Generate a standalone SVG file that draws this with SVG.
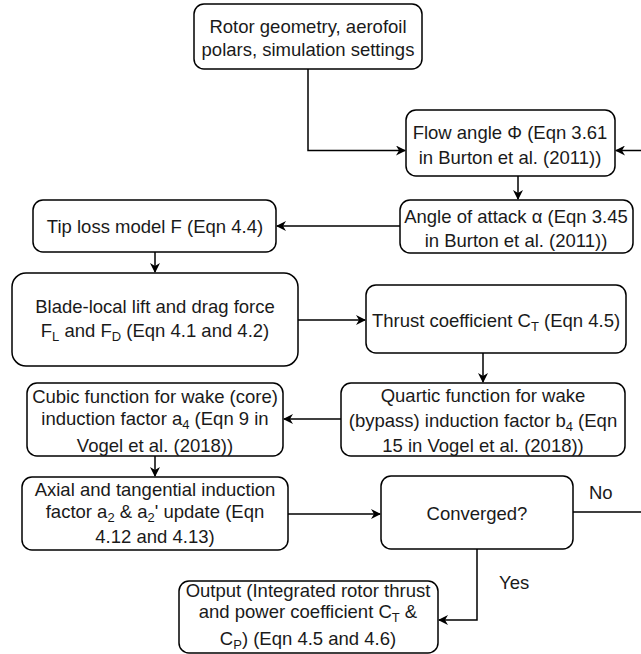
<svg xmlns="http://www.w3.org/2000/svg" width="641" height="654" viewBox="0 0 641 654">
<style>
.box{fill:#fff;stroke:#000;stroke-width:1.5}
.t{font-family:"Liberation Sans",Arial,sans-serif;font-size:18.5px;fill:#1a1a1a;text-anchor:middle}
.l{font-family:"Liberation Sans",Arial,sans-serif;font-size:18.5px;fill:#1a1a1a}
.c{fill:none;stroke:#000;stroke-width:1.5}
.s{font-size:13px}
</style>
<defs>
<marker id="ar" viewBox="0 0 10 10" refX="9" refY="5" markerWidth="10" markerHeight="10" markerUnits="userSpaceOnUse" orient="auto">
<path d="M0,0 L10,5 L0,10 L3,5 z" fill="#000"/>
</marker>
</defs>
<rect width="641" height="654" fill="#fff"/>
<g id="connectors">
<path class="c" d="M308,69 V150.5 H405" marker-end="url(#ar)"/>
<path class="c" d="M573,512 H660 V150.5 H616" marker-end="url(#ar)"/>
<path class="c" d="M518,176 V199" marker-end="url(#ar)"/>
<path class="c" d="M400,226 H277" marker-end="url(#ar)"/>
<path class="c" d="M155,252 V272" marker-end="url(#ar)"/>
<path class="c" d="M298,320 H365" marker-end="url(#ar)"/>
<path class="c" d="M483,353 V382" marker-end="url(#ar)"/>
<path class="c" d="M341,419 H284" marker-end="url(#ar)"/>
<path class="c" d="M155,456 V476" marker-end="url(#ar)"/>
<path class="c" d="M288,514 H380" marker-end="url(#ar)"/>
<path class="c" d="M477,549 V620 H439" marker-end="url(#ar)"/>
<text class="l" x="589" y="499">No</text>
<text class="l" x="499" y="589">Yes</text>
</g>
<g id="n1"><rect class="box" x="194" y="4" width="228" height="65" rx="10"/>
<text class="t" x="308" y="33">Rotor geometry, aerofoil</text>
<text class="t" x="308" y="56">polars, simulation settings</text></g>
<g id="n2"><rect class="box" x="406" y="110" width="209" height="66" rx="10"/>
<text class="t" x="510" y="139">Flow angle Φ (Eqn 3.61</text>
<text class="t" x="510" y="164">in Burton et al. (2011))</text></g>
<g id="n3"><rect class="box" x="400" y="200" width="233" height="53" rx="10"/>
<text class="t" x="516" y="223">Angle of attack α (Eqn 3.45</text>
<text class="t" x="516" y="247">in Burton et al. (2011))</text></g>
<g id="n4"><rect class="box" x="33" y="200" width="243" height="52" rx="10"/>
<text class="t" x="155" y="233">Tip loss model F (Eqn 4.4)</text></g>
<g id="n5"><rect class="box" x="12" y="273" width="286" height="93" rx="14"/>
<text class="t" x="155" y="313">Blade-local lift and drag force</text>
<text class="t" x="155" y="337">F<tspan class="s" dy="4">L</tspan><tspan dy="-4"> and F</tspan><tspan class="s" dy="4">D</tspan><tspan dy="-4"> (Eqn 4.1 and 4.2)</tspan></text></g>
<g id="n6"><rect class="box" x="366" y="285" width="260" height="68" rx="10"/>
<text class="t" x="496" y="327">Thrust coefficient C<tspan class="s" dy="4">T</tspan><tspan dy="-4"> (Eqn 4.5)</tspan></text></g>
<g id="n7"><rect class="box" x="341" y="383" width="284" height="73" rx="10"/>
<text class="t" x="483" y="402">Quartic function for wake</text>
<text class="t" x="483" y="427">(bypass) induction factor b<tspan class="s" dy="4">4</tspan><tspan dy="-4"> (Eqn</tspan></text>
<text class="t" x="483" y="452">15 in Vogel et al. (2018))</text></g>
<g id="n8"><rect class="box" x="27" y="383" width="256" height="73" rx="10"/>
<text class="t" x="155" y="403">Cubic function for wake (core)</text>
<text class="t" x="155" y="425">induction factor a<tspan class="s" dy="4">4</tspan><tspan dy="-4"> (Eqn 9 in</tspan></text>
<text class="t" x="155" y="452">Vogel et al. (2018))</text></g>
<g id="n9"><rect class="box" x="22" y="477" width="266" height="73" rx="10"/>
<text class="t" x="155" y="496">Axial and tangential induction</text>
<text class="t" x="155" y="518">factor a<tspan class="s" dy="4">2</tspan><tspan dy="-4"> &amp; a</tspan><tspan class="s" dy="4">2</tspan><tspan dy="-4">' update (Eqn</tspan></text>
<text class="t" x="155" y="543">4.12 and 4.13)</text></g>
<g id="n10"><rect class="box" x="381" y="476" width="192" height="73" rx="10"/>
<text class="t" x="477" y="520">Converged?</text></g>
<g id="n11"><rect class="box" x="179" y="581" width="259" height="72" rx="10"/>
<text class="t" x="308" y="597">Output (Integrated rotor thrust</text>
<text class="t" x="308" y="618">and power coefficient C<tspan class="s" dy="4">T</tspan><tspan dy="-4"> &amp;</tspan></text>
<text class="t" x="308" y="645">C<tspan class="s" dy="4">P</tspan><tspan dy="-4">) (Eqn 4.5 and 4.6)</tspan></text></g>
</svg>
